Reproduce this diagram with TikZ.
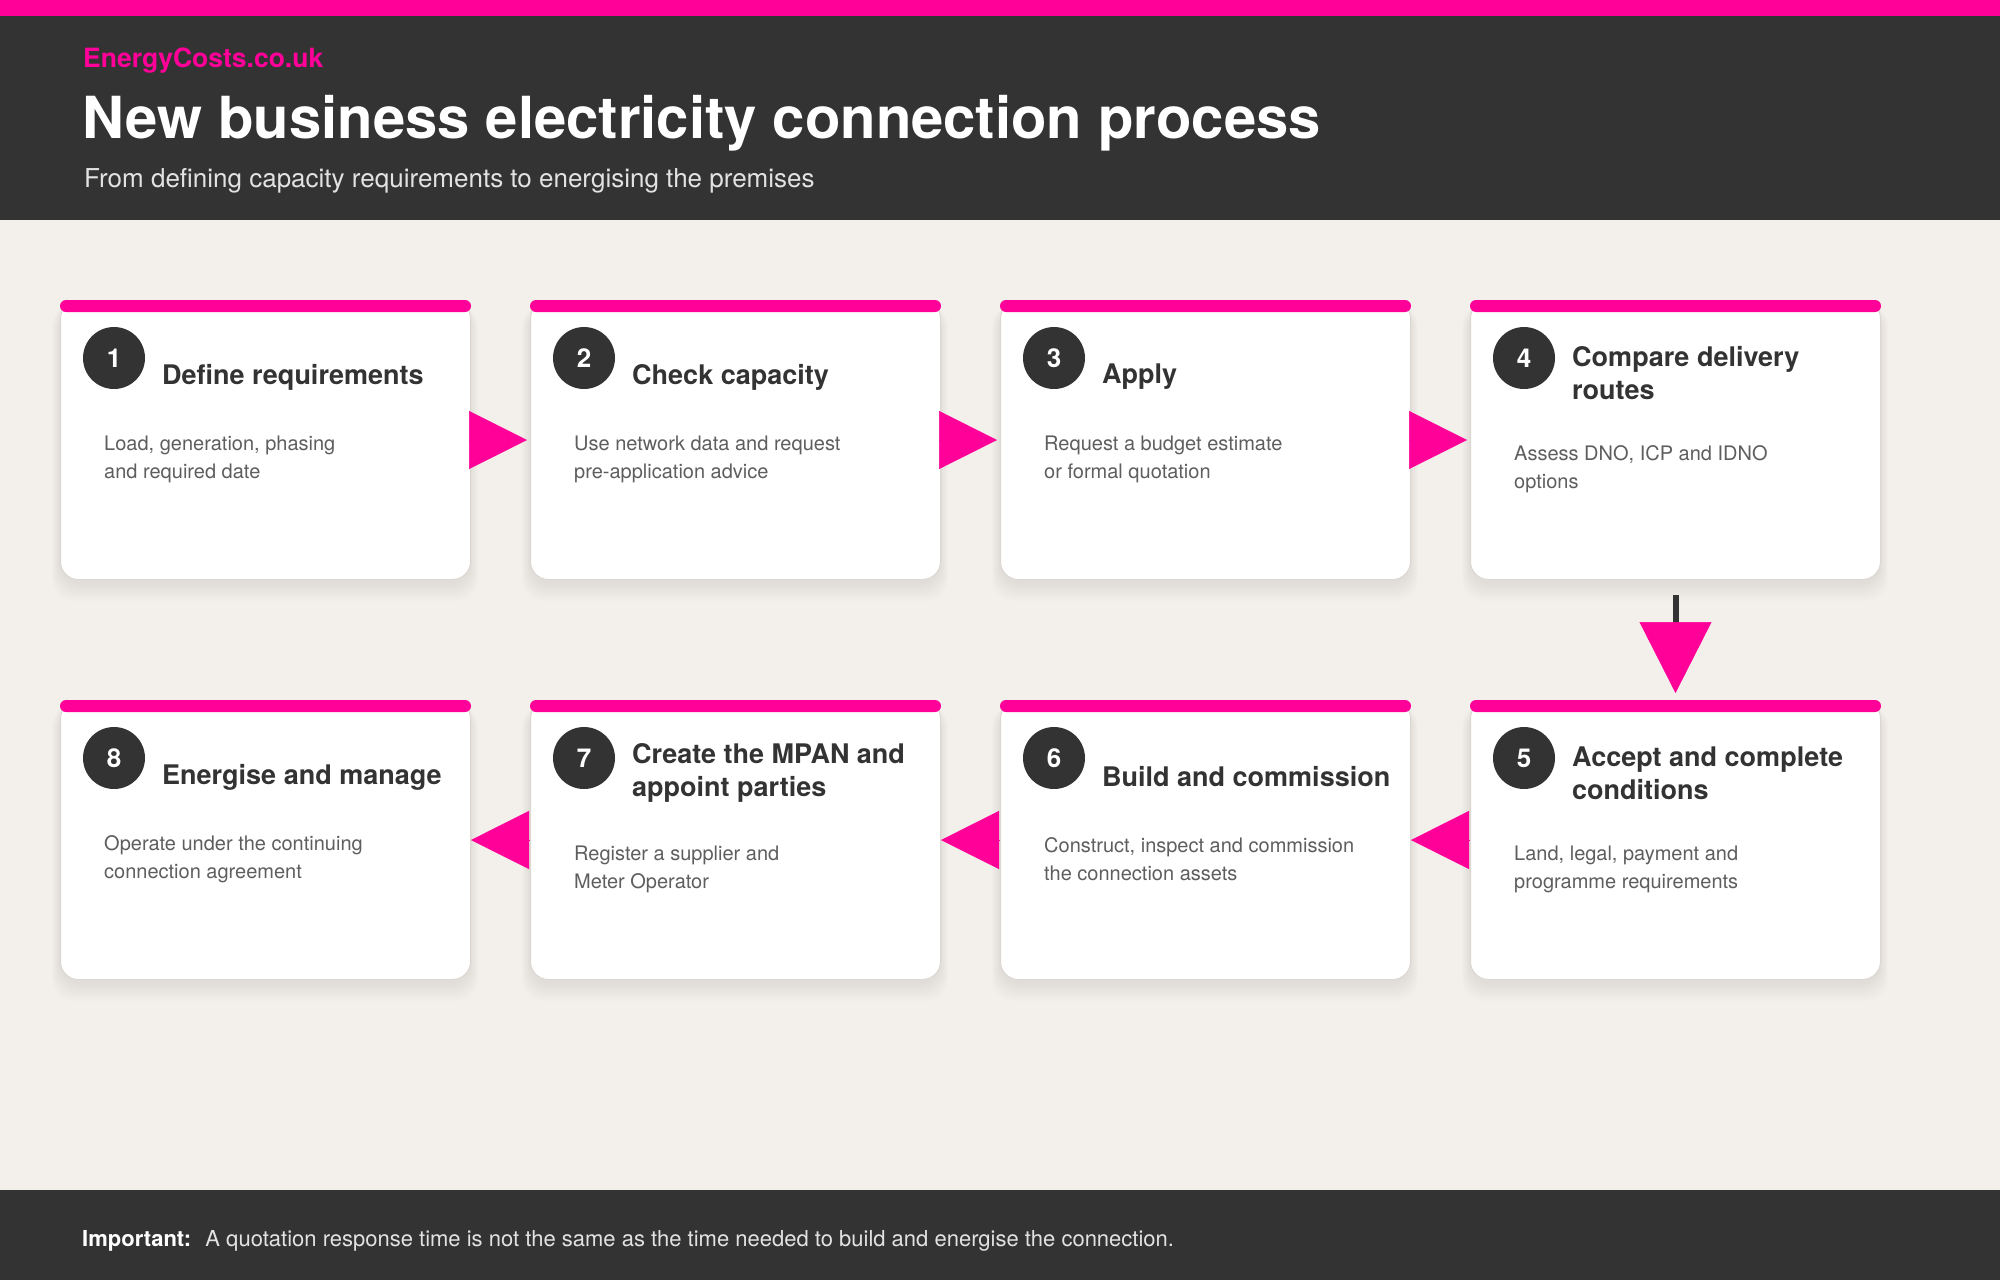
\documentclass[tikz,border=0pt]{standalone}
\usepackage{fontspec}
\setmainfont{TeX Gyre Heros}
\usetikzlibrary{arrows.meta,calc}
\definecolor{pinkc}{HTML}{FF0099}
\definecolor{darkc}{HTML}{333333}
\definecolor{bgc}{HTML}{F3EFEB}
\definecolor{descc}{HTML}{5E5E5E}
\definecolor{subc}{HTML}{E2E2E2}
\definecolor{borderc}{HTML}{DDD7D2}
\newcommand\flowcard[8]{%
  \foreach \s in {1,...,9} {%
    \fill[black, opacity=0.009, rounded corners=22pt]
      (#2-\s*0.9, #3+8-\s*0.4) rectangle (#2+410+\s*0.9, #3+279+4+\s*2);
  }
  \node[cardbox, anchor=north west] (#1) at (#2,#3) {};
  \fill[pinkc, rounded corners=6pt] (#1.north west) rectangle ($(#1.north east)+(0,12)$);
  \node[badge] (#1n) at ($(#1.north west)+(54,58)$) {#4};
  \node[cardtitle, anchor=west] (#1t) at ($(#1.north west)+(102,#8)$) {#5};
  \node[carddesc, anchor=west] (#1d) at ($(#1.north west)+(44,#7)$) {#6};
}
\begin{document}
\begin{tikzpicture}[x=1pt,y=-1pt,
  cardbox/.style={rectangle, fill=white, draw=borderc, line width=1pt, rounded corners=18pt,
    minimum width=410pt, minimum height=279pt, inner sep=0pt},
  badge/.style={circle, fill=darkc, text=white, minimum size=62pt, inner sep=0pt,
    font=\fontsize{26}{28}\selectfont\bfseries},
  cardtitle/.style={text=darkc, align=left, inner sep=0pt,
    font=\fontsize{27}{33}\selectfont\bfseries},
  carddesc/.style={text=descc, align=left, inner sep=0pt,
    font=\fontsize{20}{28}\selectfont},
  flowarr/.style={pinkc, line width=0.5pt, -{Triangle[length=58pt,width=58pt]}},
  downarr/.style={pinkc, line width=0.5pt, -{Triangle[length=71pt,width=72pt]}},
  stemline/.style={darkc, line width=6pt},
  hdr/.style={anchor=base west, inner sep=0pt}
]
\useasboundingbox (0,0) rectangle (2000,1280);
\fill[bgc] (0,0) rectangle (2000,1280);
\fill[darkc] (0,16) rectangle (2000,220);
\fill[pinkc] (0,0) rectangle (2000,16);
\fill[darkc] (0,1190) rectangle (2000,1280);

\node[hdr, text=pinkc, font=\fontsize{26.5}{30}\selectfont\bfseries] (brand) at (83,67) {EnergyCosts.co.uk};
\node[hdr, text=white, font=\fontsize{58}{62}\selectfont\bfseries] (title) at (82,138) {New business electricity connection process};
\node[hdr, text=subc, font=\fontsize{26}{30}\selectfont] (subtitle) at (84,187) {From defining capacity requirements to energising the premises};

\flowcard{c1}{60}{300}{1}{Define requirements}{Load, generation, phasing\\and required date}{159.5}{77}
\flowcard{c2}{530}{300}{2}{Check capacity}{Use network data and request\\pre-application advice}{159.5}{77}
\flowcard{c3}{1000}{300}{3}{Apply}{Request a budget estimate\\or formal quotation}{159.5}{77}
\flowcard{c4}{1470}{300}{4}{Compare delivery\\routes}{Assess DNO, ICP and IDNO\\options}{169.5}{73}
\flowcard{c5}{1470}{700}{5}{Accept and complete\\conditions}{Land, legal, payment and\\programme requirements}{169.5}{73}
\flowcard{c6}{1000}{700}{6}{Build and commission}{Construct, inspect and commission\\the connection assets}{159.5}{77}
\flowcard{c7}{530}{700}{7}{Create the MPAN and\\appoint parties}{Register a supplier and\\Meter Operator}{169.5}{73}
\flowcard{c8}{60}{700}{8}{Energise and manage}{Operate under the continuing\\connection agreement}{159.5}{77}

\draw[flowarr] (c1.east) -- ($(c2.west)+(-3,0)$);
\draw[flowarr] (c2.east) -- ($(c3.west)+(-3,0)$);
\draw[flowarr] (c3.east) -- ($(c4.west)+(-3,0)$);
\draw[stemline] ($(c4.south)+(0,15)$) -- ($(c4.south)+(0,44)$);
\draw[downarr] ($(c4.south)+(0,42)$) -- ($(c5.north)+(0,-7)$);
\draw[flowarr] (c5.west) -- (c6.east);
\draw[flowarr] (c6.west) -- (c7.east);
\draw[flowarr] (c7.west) -- (c8.east);

\node[hdr, text=white, font=\fontsize{22}{26}\selectfont\bfseries] (imp) at (82,1246) {Important:};
\node[hdr, text=subc, font=\fontsize{22}{26}\selectfont] (note) at ($(imp.base east)+(14,0)$) {A quotation response time is not the same as the time needed to build and energise the connection.};
\end{tikzpicture}
\end{document}
